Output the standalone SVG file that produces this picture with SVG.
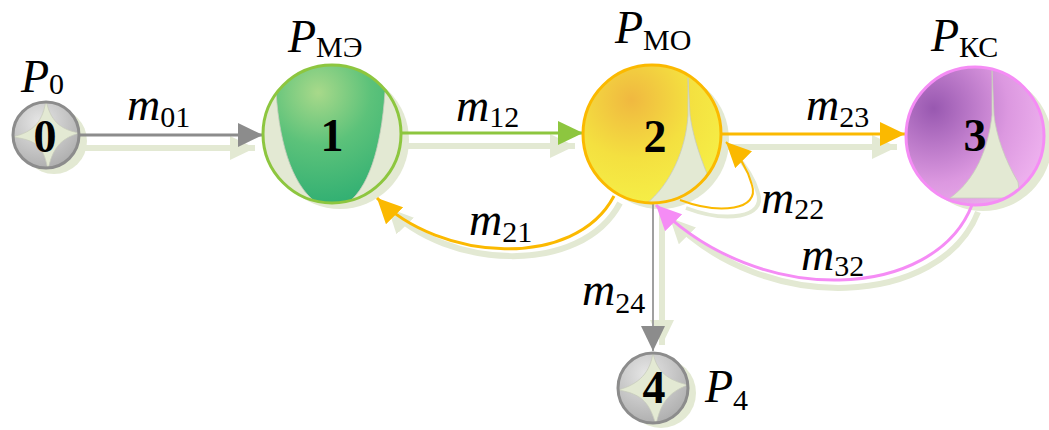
<svg xmlns="http://www.w3.org/2000/svg" width="1049" height="430" viewBox="0 0 1049 430">
<style>
.shadow{fill:#e3e9d3;stroke:none}
.sline{fill:none;stroke:#e3e9d3;stroke-width:6}
text{font-family:'Liberation Serif','Times New Roman','DejaVu Serif',serif;fill:#000}
.P{font-style:italic;font-size:46px}
.sub{font-style:normal;font-size:30px}
.num{font-weight:bold;font-size:46px;text-anchor:middle}
.pale{fill:#e3e9d3;stroke:#c8ccbc;stroke-width:0.8}
</style>
<defs>
<radialGradient id="gGray" cx="0.4" cy="0.3" r="0.8"><stop offset="0" stop-color="#e6e6e6"/><stop offset="1" stop-color="#a8a8a8"/></radialGradient>
<radialGradient id="gGreen" cx="0.4" cy="0.2" r="0.85"><stop offset="0" stop-color="#a8d98a"/><stop offset="0.45" stop-color="#5cc27a"/><stop offset="1" stop-color="#2eae72"/></radialGradient>
<radialGradient id="gYellow" cx="0.35" cy="0.25" r="0.85"><stop offset="0" stop-color="#f0b840"/><stop offset="0.5" stop-color="#f4e040"/><stop offset="1" stop-color="#f6f248"/></radialGradient>
<radialGradient id="gPurple" cx="0.2" cy="0.3" r="0.9"><stop offset="0" stop-color="#9858b0"/><stop offset="0.6" stop-color="#dc98e0"/><stop offset="1" stop-color="#f0b4f0"/></radialGradient>
<clipPath id="c0"><circle cx="46" cy="135" r="33"/></clipPath>
<clipPath id="c1"><circle cx="332" cy="134" r="69"/></clipPath>
<clipPath id="c2"><circle cx="652" cy="134" r="69"/></clipPath>
<clipPath id="c3"><circle cx="975" cy="136" r="69"/></clipPath>
<clipPath id="c4"><circle cx="653" cy="388" r="35"/></clipPath>
<marker id="aGray" markerUnits="userSpaceOnUse" markerWidth="26" markerHeight="24" refX="25" refY="12" orient="auto"><path d="M0,0 L25,12 L0,24 Z" fill="#8c8c8c"/></marker>
<marker id="aGreen" markerUnits="userSpaceOnUse" markerWidth="26" markerHeight="24" refX="25" refY="12" orient="auto"><path d="M0,0 L25,12 L0,24 Z" fill="#8dc63f"/></marker>
<marker id="aOrange" markerUnits="userSpaceOnUse" markerWidth="26" markerHeight="24" refX="25" refY="12" orient="auto"><path d="M0,0 L25,12 L0,24 Z" fill="#fbb900"/></marker>
<marker id="aPink" markerUnits="userSpaceOnUse" markerWidth="26" markerHeight="24" refX="25" refY="12" orient="auto"><path d="M0,0 L25,12 L0,24 Z" fill="#f58cf5"/></marker>
<marker id="aShadow" markerUnits="userSpaceOnUse" markerWidth="26" markerHeight="24" refX="25" refY="12" orient="auto"><path d="M0,0 L25,12 L0,24 Z" fill="#e3e9d3"/></marker>
</defs>
<rect width="1049" height="430" fill="#fff"/>

<g id="shadows">
<circle class="shadow" cx="54" cy="141" r="33"/>
<circle class="shadow" cx="340" cy="140" r="69"/>
<circle class="shadow" cx="660" cy="140" r="69"/>
<circle class="shadow" cx="983" cy="142" r="69"/>
<circle class="shadow" cx="661" cy="393" r="35"/>
<path class="sline" d="M82,148 L255,148" marker-end="url(#aShadow)"/>
<path class="sline" d="M404,146 L575,146" marker-end="url(#aShadow)"/>
<path class="sline" d="M724,147 L897,147" marker-end="url(#aShadow)"/>
<path class="sline" d="M662,205 L662,345" marker-end="url(#aShadow)"/>
<path class="sline" d="M620,203 C581,277 446,269 388,208" marker-end="url(#aShadow)"/>
<path class="sline" d="M978,212 C941,307 766,317 670,218" marker-end="url(#aShadow)"/>
<path class="sline" d="M686,208 C726,223 766,218 758,193 C754,178 746,166 734,153" style="stroke-width:4"/>
</g>

<g id="connectors">
<path d="M80,135 L263,135" fill="none" stroke="#8c8c8c" stroke-width="3" marker-end="url(#aGray)"/>
<path d="M401,133 L583,133" fill="none" stroke="#8dc63f" stroke-width="3" marker-end="url(#aGreen)"/>
<path d="M721,134 L905,134" fill="none" stroke="#fbb900" stroke-width="3" marker-end="url(#aOrange)"/>
<path d="M653,203 L653,351" fill="none" stroke="#a0a0a0" stroke-width="2" marker-end="url(#aGray)"/>
<path d="M614,196 C575,270 440,262 377,198" fill="none" stroke="#fbb900" stroke-width="3" marker-end="url(#aOrange)"/>
<path d="M972,205 C935,300 760,310 656,205" fill="none" stroke="#f58cf5" stroke-width="3" marker-end="url(#aPink)"/>
<path d="M680,200 C720,215 760,210 752,185 C748,170 740,156 726,142" fill="none" stroke="#fbb900" stroke-width="2" marker-end="url(#aOrange)"/>
</g>

<g id="node0">
<circle cx="46" cy="135" r="33" fill="url(#gGray)"/>
<g clip-path="url(#c0)"><path class="pale" d="M46,100 C50,120 60,130 80,133 C60,138 52,150 48,170 C44,150 40,140 12,137 C35,132 43,120 46,100 Z"/></g>
<circle cx="46" cy="135" r="33" fill="none" stroke="#8c8c8c" stroke-width="3"/>
<text class="num" x="45" y="152">0</text>
</g>

<g id="node1">
<circle cx="332" cy="134" r="69" fill="url(#gGreen)"/>
<g clip-path="url(#c1)">
<path class="pale" d="M276,92 C280,150 295,190 320,205 L258,205 L258,92 Z"/>
<path class="pale" d="M385,92 C381,150 368,190 345,205 L406,205 L406,92 Z"/>
</g>
<circle cx="332" cy="134" r="69" fill="none" stroke="#8dc63f" stroke-width="3"/>
<text class="num" x="332" y="151">1</text>
</g>

<g id="node2">
<circle cx="652" cy="134" r="69" fill="url(#gYellow)"/>
<g clip-path="url(#c2)">
<path class="pale" d="M688,78 L688,115 C686,150 670,185 646,204 L710,204 L708,176 C697,150 692,130 690,115 Z"/>
<path class="pale" d="M583,150 C590,175 600,190 610,204 L583,204 Z"/>
</g>
<circle cx="652" cy="134" r="69" fill="none" stroke="#fbb900" stroke-width="3"/>
<text class="num" x="655" y="152">2</text>
</g>

<g id="node3">
<circle cx="975" cy="136" r="69" fill="url(#gPurple)"/>
<g clip-path="url(#c3)">
<path class="pale" d="M992,68 L992,115 C988,150 975,180 950,198 L1020,198 L1018,182 C1005,160 996,135 994,115 Z"/>
</g>
<circle cx="975" cy="136" r="69" fill="none" stroke="#f58cf5" stroke-width="3"/>
<text class="num" x="975" y="151">3</text>
</g>

<g id="node4">
<circle cx="653" cy="388" r="35" fill="url(#gGray)"/>
<g clip-path="url(#c4)"><path class="pale" d="M653,353 C657,372 668,380 688,385 C668,392 660,405 656,425 C650,405 644,394 618,390 C640,384 650,372 653,353 Z"/></g>
<circle cx="653" cy="388" r="35" fill="none" stroke="#8c8c8c" stroke-width="3"/>
<text class="num" x="654" y="403">4</text>
</g>

<g id="labels">
<text x="21" y="92"><tspan class="P">P</tspan><tspan class="sub" dy="2">0</tspan></text>
<text x="288" y="52"><tspan class="P">P</tspan><tspan class="sub" dy="5">МЭ</tspan></text>
<text x="615" y="43"><tspan class="P">P</tspan><tspan class="sub" dy="7">МО</tspan></text>
<text x="931" y="51"><tspan class="P">P</tspan><tspan class="sub" dy="6">КС</tspan></text>
<text x="705" y="402"><tspan class="P">P</tspan><tspan class="sub" dy="8">4</tspan></text>
<text x="127" y="120"><tspan class="P">m</tspan><tspan class="sub" dy="7">01</tspan></text>
<text x="456" y="121"><tspan class="P">m</tspan><tspan class="sub" dy="6">12</tspan></text>
<text x="806" y="120"><tspan class="P">m</tspan><tspan class="sub" dy="7">23</tspan></text>
<text x="469" y="235"><tspan class="P">m</tspan><tspan class="sub" dy="7">21</tspan></text>
<text x="761" y="213"><tspan class="P">m</tspan><tspan class="sub" dy="6">22</tspan></text>
<text x="801" y="270"><tspan class="P">m</tspan><tspan class="sub" dy="6">32</tspan></text>
<text x="582" y="305"><tspan class="P">m</tspan><tspan class="sub" dy="8">24</tspan></text>
</g>
</svg>
